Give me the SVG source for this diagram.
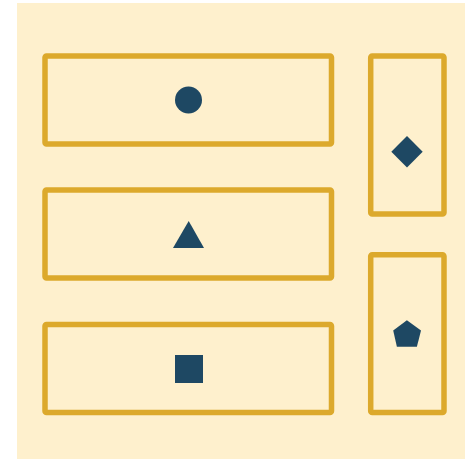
<svg xmlns="http://www.w3.org/2000/svg" width="465" height="459" viewBox="0 0 465 459">
<style>
.box{fill:none;stroke:#DCA92C;stroke-width:5.5;stroke-linejoin:round}
.sym{fill:#1E4863}
</style>
<rect x="17" y="3" width="448" height="456" fill="#FEF0CD"/>
<g id="node-circle"><rect class="box" x="45" y="56" width="286.5" height="88" rx="1.5"/><circle class="sym" cx="188.5" cy="100" r="13.5"/></g>
<g id="node-triangle"><rect class="box" x="45" y="190" width="286.5" height="88" rx="1.5"/><polygon class="sym" points="188.7,221 204,248 173,248"/></g>
<g id="node-square"><rect class="box" x="45" y="324.5" width="286.5" height="88" rx="1.5"/><rect class="sym" x="175" y="355" width="28" height="28"/></g>
<g id="node-diamond"><rect class="box" x="370.7" y="56" width="73.3" height="158" rx="1.5"/><polygon class="sym" points="407,136 422.7,151.7 407,167.4 391.3,151.7"/></g>
<g id="node-pentagon"><rect class="box" x="370.7" y="254.7" width="73.3" height="157.8" rx="1.5"/><polygon class="sym" points="406.9,320.3 421,330.5 416.9,346.7 396.9,346.7 393.2,330.5"/></g>
<g id="connectors"/>
</svg>
